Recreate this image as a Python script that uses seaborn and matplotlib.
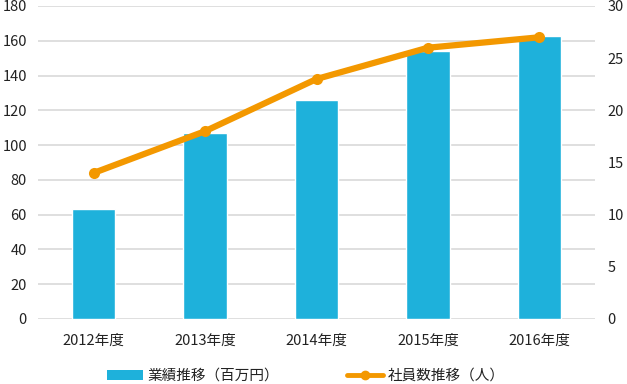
import matplotlib
matplotlib.use("Agg")
import matplotlib.pyplot as plt
import seaborn as sns
import numpy as np
import pandas as pd
from matplotlib.lines import Line2D
from matplotlib.patches import Patch

years = ["2012年度", "2013年度", "2014年度", "2015年度", "2016年度"]
sales = [63, 107, 126, 154, 163]
staff = [14, 18, 23, 26, 27]
left_ticks = [0, 20, 40, 60, 80, 100, 120, 140, 160, 180]
right_ticks = [0, 5, 10, 15, 20, 25, 30]
bar_label = "業績推移（百万円）"
line_label = "社員数推移（人）"

sns.set_theme(style="white")
plt.rcParams['font.family'] = ['Noto Sans CJK JP', 'DejaVu Sans']

bar_color = "#1EB1DB"
line_color = "#F39800"
text_color = "#222222"

fig = plt.figure(figsize=(6.27, 3.84), dpi=100)
ax = fig.add_axes([0.0606, 0.1693, 0.8884, 0.8151])

df = pd.DataFrame({"year": years, "sales": sales, "staff": staff})
sns.barplot(data=df, x="year", y="sales", color=bar_color, width=0.39,
            saturation=1, ax=ax, zorder=2)
ax.set_ylim(0, 180)
ax.set_yticks(left_ticks)
ax.set_xlim(-0.5, len(years) - 0.5)
ax.grid(axis="y", color="#d9d9d9", linewidth=1.2, zorder=0)
ax.set_axisbelow(True)
for s in ax.spines.values():
    s.set_visible(False)
ax.set_xlabel("")
ax.set_ylabel("")
ax.tick_params(axis="both", length=0, labelsize=10.5, colors=text_color)
ax.tick_params(axis="x", pad=11)
ax.tick_params(axis="y", pad=8)

ax2 = ax.twinx()
sns.lineplot(x=np.arange(len(years)), y=staff, ax=ax2, color=line_color,
             linewidth=4.5, marker="o", markersize=8, markeredgewidth=0,
             zorder=3)
ax2.set_ylim(0, 30)
ax2.set_yticks(right_ticks)
for s in ax2.spines.values():
    s.set_visible(False)
ax2.tick_params(axis="y", length=0, labelsize=10.5, colors=text_color, pad=9)
ax2.set_ylabel("")
ax2.grid(False)

handles = [Patch(facecolor=bar_color, edgecolor="none", label=bar_label),
           Line2D([0], [0], color=line_color, linewidth=3.5, marker="o",
                  markersize=6, label=line_label)]
fig.legend(handles=handles, loc="center left",
           bbox_to_anchor=(107 / 627, 1 - 376 / 384),
           ncol=2, frameon=False, fontsize=10.5, columnspacing=4.6,
           handlelength=2.5, handletextpad=0.3, borderpad=0, borderaxespad=0,
           labelcolor=text_color)

fig.savefig("out.png", dpi=100)
